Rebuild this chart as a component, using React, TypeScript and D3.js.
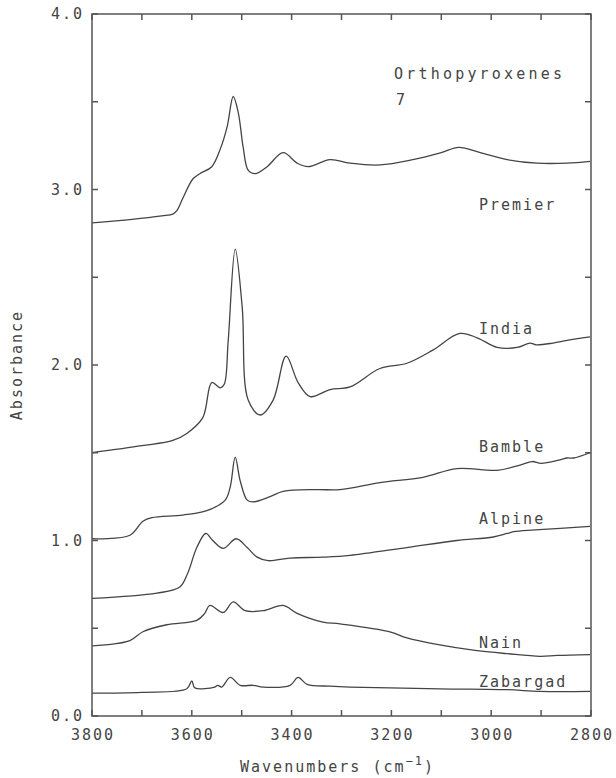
import React from 'react';
import * as d3 from 'd3';

// spectra: [wavenumber cm-1, absorbance]
const premier: [number, number][] = [
  [3800, 2.81], [3720, 2.83], [3660, 2.85], [3638, 2.86], [3630, 2.88], [3618, 2.95],
  [3598, 3.06], [3584, 3.09], [3560, 3.13], [3543, 3.23], [3529, 3.36], [3517, 3.53],
  [3507, 3.44], [3497, 3.24], [3487, 3.11], [3473, 3.09], [3449, 3.13], [3417, 3.21],
  [3389, 3.15], [3367, 3.13], [3323, 3.17], [3283, 3.15], [3223, 3.14], [3157, 3.17],
  [3100, 3.21], [3065, 3.24], [3022, 3.21], [2968, 3.17], [2908, 3.15], [2848, 3.15],
  [2802, 3.16],
];

const india: [number, number][] = [
  [3800, 1.50], [3700, 1.54], [3638, 1.57], [3610, 1.61], [3578, 1.70], [3560, 1.90],
  [3543, 1.87], [3535, 1.89], [3527, 2.14], [3513, 2.66], [3499, 2.33], [3487, 1.80],
  [3463, 1.715], [3437, 1.80], [3411, 2.05], [3387, 1.90], [3363, 1.82], [3323, 1.86],
  [3283, 1.875], [3223, 1.98], [3169, 2.01], [3117, 2.085], [3063, 2.18], [3028, 2.155],
  [2988, 2.10], [2948, 2.10], [2922, 2.125], [2910, 2.115], [2876, 2.125], [2848, 2.14],
  [2802, 2.16],
];

const bamble: [number, number][] = [
  [3800, 1.01], [3724, 1.03], [3698, 1.11], [3680, 1.13], [3618, 1.145], [3570, 1.17],
  [3533, 1.23], [3523, 1.305], [3513, 1.475], [3503, 1.34], [3489, 1.23], [3477, 1.22],
  [3443, 1.25], [3417, 1.28], [3349, 1.29], [3303, 1.29], [3223, 1.33], [3137, 1.36],
  [3069, 1.41], [2988, 1.40], [2942, 1.43], [2918, 1.45], [2900, 1.44], [2862, 1.46],
  [2848, 1.47], [2835, 1.47], [2802, 1.50],
];

const alpine: [number, number][] = [
  [3800, 0.67], [3670, 0.70], [3624, 0.735], [3608, 0.815], [3590, 0.96], [3572, 1.04],
  [3558, 1.00], [3537, 0.955], [3511, 1.01], [3489, 0.96], [3469, 0.905], [3447, 0.885],
  [3403, 0.90], [3337, 0.905], [3283, 0.915], [3169, 0.96], [3069, 1.00], [2996, 1.02],
  [2968, 1.04], [2955, 1.05], [2912, 1.06], [2802, 1.08],
];

const nain: [number, number][] = [
  [3800, 0.40], [3724, 0.43], [3698, 0.48], [3650, 0.52], [3590, 0.545], [3574, 0.585],
  [3564, 0.63], [3537, 0.59], [3517, 0.65], [3493, 0.60], [3457, 0.60], [3417, 0.63],
  [3389, 0.585], [3337, 0.535], [3303, 0.525], [3203, 0.48], [3169, 0.445], [3103, 0.405],
  [3036, 0.375], [2968, 0.355], [2902, 0.34], [2868, 0.345], [2802, 0.35],
];

const zabargad: [number, number][] = [
  [3800, 0.13], [3700, 0.135], [3610, 0.155], [3600, 0.20], [3594, 0.16], [3554, 0.165],
  [3548, 0.175], [3540, 0.165], [3523, 0.22], [3503, 0.175], [3477, 0.175], [3457, 0.165],
  [3403, 0.175], [3387, 0.22], [3369, 0.18], [3323, 0.17], [3283, 0.165], [3103, 0.155],
  [2968, 0.15], [2902, 0.14], [2802, 0.14],
];

const spectra = [premier, india, bamble, alpine, nain, zabargad];

// sample names and where they were written
const sampleNames = ['Premier', 'India', 'Bamble', 'Alpine', 'Nain', 'Zabargad'];
const sampleLabelAbs = [2.92, 2.21, 1.54, 1.13, 0.42, 0.20];

const xTicks = [3800, 3600, 3400, 3200, 3000, 2800];
const xMinorTicks = d3.range(3800, 2799, -100);
const yTicks = [0, 1, 2, 3, 4];
const yMinorTicks = d3.range(0, 4.01, 0.5);

const ink = '#444';
const font = '"DejaVu Sans Mono", monospace';

export default function App() {
  const width = 616;
  const height = 778;
  const margin = { top: 14, right: 25, bottom: 62, left: 92 };
  const x = d3.scaleLinear().domain([3800, 2800]).range([margin.left, width - margin.right]);
  const y = d3.scaleLinear().domain([0, 4]).range([height - margin.bottom, margin.top]);
  const [x0, x1] = x.range();
  const [y0, y1] = y.range();

  const line = d3.line<[number, number]>()
    .x(d => x(d[0]))
    .y(d => y(d[1]))
    .curve(d3.curveCatmullRom.alpha(0.5));

  const tk = 6;

  return (
    <svg width={width} height={height} style={{ position: 'absolute', left: 0, top: 0, background: '#fff' }}>
      <g fill="none" stroke={ink} strokeWidth={1.3}>
        {spectra.map((s, i) => <path key={i} d={line(s) || ''} />)}
      </g>

      <g stroke="#555" strokeWidth={1.5}>
        <rect x={x0} y={y1} width={x1 - x0} height={y0 - y1} fill="none" />
        {xMinorTicks.map(t => (
          <g key={'x' + t}>
            <line x1={x(t)} x2={x(t)} y1={y0} y2={y0 - tk} />
            <line x1={x(t)} x2={x(t)} y1={y1} y2={y1 + tk} />
          </g>
        ))}
        {yMinorTicks.map(t => (
          <g key={'y' + t}>
            <line x1={x0} x2={x0 + tk} y1={y(t)} y2={y(t)} />
            <line x1={x1} x2={x1 - tk} y1={y(t)} y2={y(t)} />
          </g>
        ))}
      </g>

      <g fill={ink} fontFamily={font} fontSize={15} letterSpacing={2}>
        {xTicks.map(t => (
          <text key={t} x={x(t) + 1} y={y0 + 24} textAnchor="middle">{t}</text>
        ))}
        {yTicks.map(t => (
          <text key={t} x={x0 - 8} y={y(t) + 5} textAnchor="end">{d3.format('.1f')(t)}</text>
        ))}
        <text x={(x0 + x1) / 2 - 4} y={y0 + 56} textAnchor="middle">
          Wavenumbers (cm<tspan dy={-7} fontSize={12}>−1</tspan><tspan dy={7}>)</tspan>
        </text>
        <text transform={`translate(22,${(y0 + y1) / 2}) rotate(-90)`} textAnchor="middle">Absorbance</text>
        <text x={394} y={79} letterSpacing={3.2}>Orthopyroxenes</text>
        <text x={396} y={105}>7</text>
        {sampleNames.map((n, i) => (
          <text key={n} x={479} y={y(sampleLabelAbs[i]) + 6}>{n}</text>
        ))}
      </g>
    </svg>
  );
}
